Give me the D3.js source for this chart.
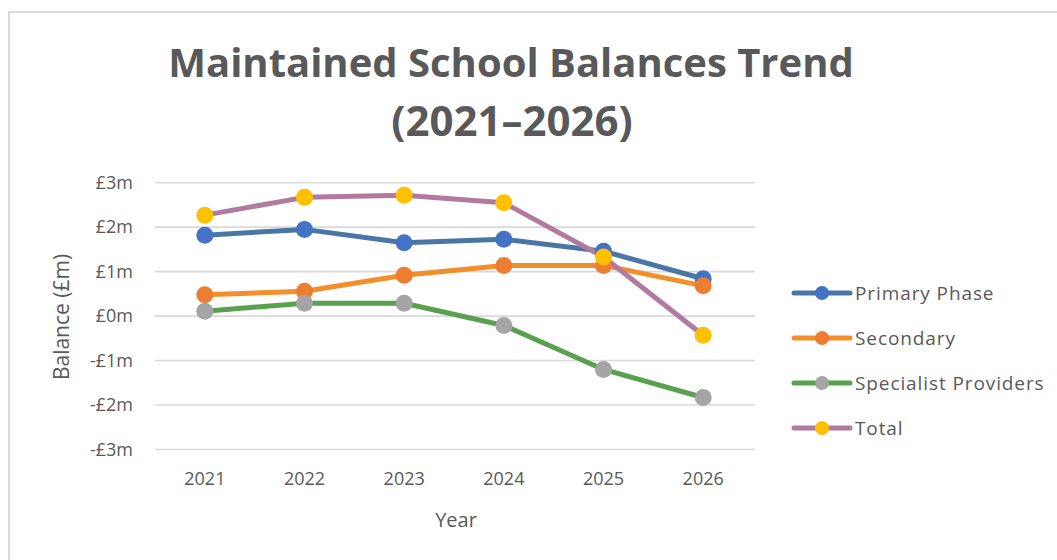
<!DOCTYPE html>
<html>
<head>
<meta charset="utf-8">
<script src="https://cdn.jsdelivr.net/npm/d3@7"></script>
<style>
  body { margin: 0; background: #fff; }
  svg { display: block; font-family: "Open Sans", sans-serif; }
</style>
</head>
<body>
<div id="chart"></div>
<script>
// data (£m)
var years = ["2021", "2022", "2023", "2024", "2025", "2026"];
var primary = [1.82, 1.95, 1.65, 1.73, 1.46, 0.84];
var secondary = [0.48, 0.56, 0.92, 1.14, 1.14, 0.68];
var specialist = [0.11, 0.29, 0.29, -0.21, -1.20, -1.83];
var total = [2.27, 2.67, 2.72, 2.55, 1.33, -0.43];
var yTicks = [-3, -2, -1, 0, 1, 2, 3];

var seriesNames = ["Primary Phase", "Secondary", "Specialist Providers", "Total"];
var lineColours = ["#4a76a6", "#f28e2b", "#59a14f", "#b07aa1"];
var dotColours = ["#4472c4", "#ed7d31", "#a5a5a5", "#ffc000"];
var series = [primary, secondary, specialist, total].map(function(vals, i) {
  return { name: seriesNames[i], values: vals, line: lineColours[i], dot: dotColours[i] };
});

var w = 1057, h = 560;
var svg = d3.select("#chart").append("svg")
  .attr("width", w)
  .attr("height", h);

// chart frame
svg.append("rect")
  .attr("x", 9).attr("y", 12)
  .attr("width", w + 20).attr("height", h + 20)
  .attr("fill", "none")
  .attr("stroke", "#d9d9d9")
  .attr("stroke-width", 2);

var x = d3.scaleBand().domain(years).range([155, 753]);
var y = d3.scaleLinear().domain([-3, 3]).range([449.5, 182.7]);

// gridlines
svg.append("g")
  .selectAll("line")
  .data(yTicks)
  .enter()
  .append("line")
  .attr("x1", 155).attr("x2", 755)
  .attr("y1", function(d) { return y(d); })
  .attr("y2", function(d) { return y(d); })
  .attr("stroke", "#d9d9d9")
  .attr("stroke-width", 1.6);

// y axis labels
var fmt = function(d) { return (d < 0 ? "-" : "") + "£" + Math.abs(d) + "m"; };
var yAxis = svg.append("g")
  .attr("transform", "translate(155,0)")
  .call(d3.axisLeft(y).tickValues(yTicks).tickFormat(fmt).tickSize(0).tickPadding(22));
yAxis.select(".domain").remove();
yAxis.selectAll("text")
  .attr("font-family", "Open Sans, sans-serif")
  .attr("font-size", "18px")
  .attr("fill", "#595959");

// x axis labels
var xAxis = svg.append("g")
  .attr("transform", "translate(0," + y(-3) + ")")
  .call(d3.axisBottom(x).tickSize(0).tickPadding(23));
xAxis.select(".domain").remove();
xAxis.selectAll("text")
  .attr("font-family", "Open Sans, sans-serif")
  .attr("font-size", "18px")
  .attr("fill", "#595959");

// axis titles
svg.append("text")
  .text("Year")
  .attr("x", 456).attr("y", 527)
  .attr("text-anchor", "middle")
  .attr("font-size", "20px")
  .attr("fill", "#595959");

svg.append("text")
  .text("Balance (£m)")
  .attr("transform", "translate(69,317) rotate(-90)")
  .attr("text-anchor", "middle")
  .attr("font-size", "21px")
  .attr("fill", "#595959");

// title
var title = svg.append("text")
  .attr("text-anchor", "middle")
  .attr("font-weight", "bold")
  .attr("font-size", "40px")
  .attr("fill", "#595959");
title.append("tspan").attr("x", 511).attr("y", 77).text("Maintained School Balances Trend");
title.append("tspan").attr("x", 512).attr("y", 136).attr("font-size", "42px").text("(2021–2026)");

// lines and markers
var cx = function(d, i) { return x(years[i]) + x.bandwidth() / 2; };
var line = d3.line()
  .x(function(d, i) { return cx(d, i); })
  .y(function(d) { return y(d); });

series.forEach(function(s) {
  svg.append("path")
    .attr("d", line(s.values))
    .attr("fill", "none")
    .attr("stroke", s.line)
    .attr("stroke-width", 5)
    .attr("stroke-linejoin", "round");
});
series.forEach(function(s) {
  svg.append("g")
    .selectAll("circle")
    .data(s.values)
    .enter()
    .append("circle")
    .attr("cx", cx)
    .attr("cy", function(d) { return y(d); })
    .attr("r", 8.5)
    .attr("fill", s.dot);
});

// legend
var legend = svg.append("g")
  .selectAll("g")
  .data(series)
  .enter()
  .append("g")
  .attr("transform", function(d, i) { return "translate(794," + (293 + i * 45) + ")"; });
legend.append("line")
  .attr("x1", 0).attr("x2", 56)
  .attr("stroke", function(d) { return d.line; })
  .attr("stroke-width", 5)
  .attr("stroke-linecap", "round");
legend.append("circle")
  .attr("cx", 28).attr("r", 7)
  .attr("fill", function(d) { return d.dot; });
legend.append("text")
  .text(function(d) { return d.name; })
  .attr("x", 61).attr("y", 7)
  .attr("font-size", "19px")
  .attr("letter-spacing", "0.9px")
  .attr("fill", "#595959");
</script>
</body>
</html>
